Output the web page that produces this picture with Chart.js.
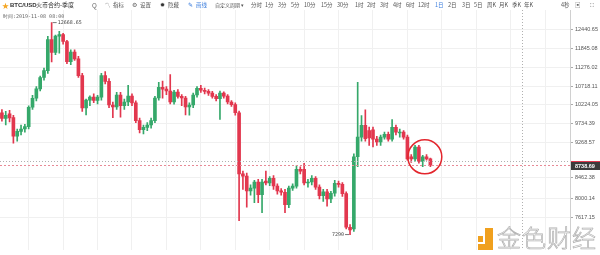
<!DOCTYPE html>
<html><head><meta charset="utf-8">
<script src="https://cdn.jsdelivr.net/npm/chart.js@4.4.0/dist/chart.umd.min.js"></script>
<style>
html,body{margin:0;padding:0;background:#fff;width:600px;height:255px;overflow:hidden;font-family:"Noto Sans CJK SC","Noto Sans",sans-serif;}
#wrap{position:relative;width:600px;height:255px;}
#c{position:absolute;left:0;top:0;}
.t{position:absolute;top:0px;line-height:10px;font-size:5.5px;color:#555;white-space:nowrap;}
#wm{position:absolute;left:0;top:0;width:600px;height:255px;pointer-events:none;}
</style></head>
<body><div id="wrap">
<canvas id="c" width="600" height="255"></canvas>
<div id="bar">
 <span class="t" style="left:2px;color:#f5a623;font-size:7px;">★</span>
 <span class="t" style="left:10px;color:#333;font-weight:bold;font-size:6px;font-family:'Liberation Sans',sans-serif;">BTC/USD</span>
 <span class="t" style="left:36px;color:#333;font-size:6px;">火币合约-季度</span>
 <span class="t" style="left:92px;color:#666;font-size:6.5px;">Q</span>
 <span class="t" style="left:105px;color:#666;">〽</span>
 <span class="t" style="left:113px;">指标</span>
 <span class="t" style="left:132px;color:#666;">⚙</span>
 <span class="t" style="left:140px;">设置</span>
 <span class="t" style="left:160px;color:#333;">✹</span>
 <span class="t" style="left:168px;">隐藏</span>
 <span class="t" style="left:188px;color:#3b7ddd;">✎</span>
 <span class="t" style="left:196px;color:#3b7ddd;">画线</span>
 <span class="t" style="left:215px;font-size:5px;">自定义周期 ▾</span>
 <span class="t" style="left:251px;">分时</span>
 <span class="t" style="left:265px;">1分</span>
 <span class="t" style="left:278px;">3分</span>
 <span class="t" style="left:291px;">5分</span>
 <span class="t" style="left:304px;">10分</span>
 <span class="t" style="left:321px;">15分</span>
 <span class="t" style="left:337px;">30分</span>
 <span class="t" style="left:355px;">1时</span>
 <span class="t" style="left:367px;">2时</span>
 <span class="t" style="left:380px;">3时</span>
 <span class="t" style="left:393px;">4时</span>
 <span class="t" style="left:406px;">6时</span>
 <span class="t" style="left:418px;">12时</span>
 <span class="t" style="left:435px;color:#3b7ddd;">1日</span>
 <span class="t" style="left:448px;">2日</span>
 <span class="t" style="left:462px;">3日</span>
 <span class="t" style="left:474px;">5日</span>
 <span class="t" style="left:487px;">周K</span>
 <span class="t" style="left:499px;">月K</span>
 <span class="t" style="left:512px;">季K</span>
 <span class="t" style="left:524px;">年K</span>
 <span class="t" style="left:561px;">4秒</span>
 <span class="t" style="left:575px;color:#666;">▣</span>
 <span class="t" style="left:590px;color:#666;">⛶</span>
 <span class="t" style="left:3px;top:12px;line-height:8px;font-size:5px;color:#666;font-family:'DejaVu Sans Mono',monospace;">时间:2019-11-08 08:00</span>
</div>
<div id="wm">
 <div style="position:absolute;left:478px;top:236px;width:5px;height:6px;background:#f0a01e;"></div>
 <div style="position:absolute;left:485px;top:228px;width:8px;height:22px;background:#f0a01e;"></div>
 <div style="position:absolute;left:478px;top:244px;width:15px;height:6px;background:#f0a01e;"></div>
 <div style="position:absolute;left:497px;top:222px;font-size:24px;line-height:30px;color:rgba(255,255,255,0.85);-webkit-text-stroke:0.7px #b0b0b0;font-family:'Noto Sans CJK SC',sans-serif;font-weight:300;letter-spacing:1px;">金色财经</div>
</div>
</div>
<script>
const dates = [
"2019-07-25","2019-07-26","2019-07-27","2019-07-28","2019-07-29","2019-07-30","2019-07-31",
"2019-08-01","2019-08-02","2019-08-03","2019-08-04","2019-08-05","2019-08-06","2019-08-07","2019-08-08","2019-08-09","2019-08-10",
"2019-08-11","2019-08-12","2019-08-13","2019-08-14","2019-08-15","2019-08-16","2019-08-17","2019-08-18","2019-08-19","2019-08-20",
"2019-08-21","2019-08-22","2019-08-23","2019-08-24","2019-08-25","2019-08-26","2019-08-27","2019-08-28","2019-08-29","2019-08-30","2019-08-31",
"2019-09-01","2019-09-02","2019-09-03","2019-09-04","2019-09-05","2019-09-06","2019-09-07","2019-09-08","2019-09-09","2019-09-10",
"2019-09-11","2019-09-12","2019-09-13","2019-09-14","2019-09-15","2019-09-16","2019-09-17","2019-09-18","2019-09-19","2019-09-20",
"2019-09-21","2019-09-22","2019-09-23","2019-09-24","2019-09-25","2019-09-26","2019-09-27","2019-09-28","2019-09-29","2019-09-30",
"2019-10-01","2019-10-02","2019-10-03","2019-10-04","2019-10-05","2019-10-06","2019-10-07","2019-10-08","2019-10-09","2019-10-10",
"2019-10-11","2019-10-12","2019-10-13","2019-10-14","2019-10-15","2019-10-16","2019-10-17","2019-10-18","2019-10-19","2019-10-20",
"2019-10-21","2019-10-22","2019-10-23","2019-10-24","2019-10-25","2019-10-26","2019-10-27","2019-10-28","2019-10-29","2019-10-30","2019-10-31",
"2019-11-01","2019-11-02","2019-11-03","2019-11-04","2019-11-05","2019-11-06","2019-11-07","2019-11-08","2019-11-09","2019-11-10",
"2019-11-11","2019-11-12","2019-11-13","2019-11-14"];
const openV = [10016,9870,9990,9890,9420,9540,9600,9660,10160,10400,10660,10980,11180,12120,11720,12230,12280,12060,11440,11730,
11525,11035,10145,10350,10430,10340,10430,11035,10870,10220,10170,10490,10200,10300,10460,10275,9810,9580,9640,9700,
9810,10407,10700,10650,10600,10300,10570,10450,10407,10170,10220,10490,10675,10620,10590,10540,10450,10390,10540,10460,
10300,10230,10016,8540,8490,8170,8230,8360,8090,8380,8340,8440,8275,8170,8140,7880,8230,8270,8640,8640,
8340,8360,8440,8250,8066,8150,8000,8120,8330,8310,8110,7430,7400,8930,9400,9690,9560,9580,9350,9280,
9400,9470,9350,9640,9500,9520,9400,8930,8880,9160,8820,8930,8880];
const highV = [10100,10050,10080,9950,9600,9700,9720,10200,10480,10720,11020,11250,12220,12668.65,12260,12380,12320,12100,11800,11800,
11600,11100,10380,10470,10520,10480,11100,11150,10950,10300,10560,10560,10380,10760,10520,10330,9880,9700,9760,9880,
10450,10840,10880,10720,11060,10620,10640,10500,10450,10280,10540,10720,10760,10680,10640,10590,10500,10600,10580,10500,
10340,10280,10060,8600,8560,8300,8400,8420,8420,8600,8480,8500,8320,8220,8200,8270,8320,8720,8700,8780,
8420,8500,8480,8300,8200,8200,8160,8400,8380,8350,8150,7480,9000,10840,9940,10090,9650,9650,9420,9450,
9520,9520,9840,9700,9600,9560,9450,8980,9200,9200,8960,8980,8900];
const lowV = [9800,9700,9780,9250,9300,9450,9520,9600,10100,10330,10600,10900,11100,11437,11650,11700,11980,11380,11350,11480,
10980,10050,9960,10200,10280,10250,10350,10800,10150,9890,10100,9900,10100,10200,10200,9760,9500,9480,9560,9620,
9760,10350,10400,10500,10250,10240,10400,10200,9960,9950,10150,10430,10560,10520,10480,10400,10330,9840,10400,10250,
10180,9950,7560,8200,7830,8080,7920,7920,7720,8300,8280,8200,8100,8080,7720,7820,8180,8230,8540,8300,
8250,8300,8200,8000,7950,7850,7920,8060,8250,8050,7400,7290,7350,8700,9300,9300,9200,9160,9200,9200,
9350,9300,9300,9450,9400,9350,8850,8800,8830,8780,8700,8850,8700];
const closeV = [9870,9950,9880,9420,9540,9600,9660,10160,10400,10660,10980,11180,12120,11720,12230,12280,12060,11440,11730,11525,
11035,10145,10350,10430,10340,10430,11035,10870,10220,10170,10490,10200,10300,10460,10275,9810,9580,9640,9700,9810,
10407,10700,10650,10600,10300,10570,10450,10407,10170,10220,10490,10675,10620,10590,10540,10450,10390,10540,10460,10300,
10230,10016,8540,8490,8170,8230,8360,8090,8360,8340,8440,8275,8170,8140,7880,8230,8270,8640,8600,8340,
8360,8440,8250,8066,8150,8000,8120,8330,8310,8110,7430,7380,8930,9400,9690,9360,9380,9350,9280,9400,
9470,9350,9640,9520,9520,9400,8880,8880,9160,8820,8930,8880,8738.69];
const yTicks = [12440.65,11845.08,11276.02,10718.11,10224.05,9734.39,9268.57,8462.38,8000.14,7617.15];
const futureSlots = 36;
const crossIndex = 136;
const crossValue = 8830;

const GREEN = '#35a86a', RED = '#e2374e';
const labels = dates.concat(Array(futureSlots).fill(''));
const cols = dates.map((d,i)=> closeV[i] >= openV[i] ? GREEN : RED);

const overlay = {
  id:'overlay',
  afterDatasetsDraw(chart){
    const {ctx, chartArea:a, scales:{x,y}} = chart;
    ctx.save();
    ctx.strokeStyle = '#b0b0b0'; ctx.lineWidth = 1; ctx.setLineDash([1,2]);
    const cx = Math.round(x.getPixelForValue(crossIndex))+0.5;
    ctx.beginPath(); ctx.moveTo(cx,a.top); ctx.lineTo(cx,a.bottom); ctx.stroke();
    const cy = Math.round(y.getPixelForValue(crossValue))+0.5;
    ctx.beginPath(); ctx.moveTo(a.left,cy); ctx.lineTo(a.right,cy); ctx.stroke();
    const last = closeV[closeV.length-1];
    const ly = Math.round(y.getPixelForValue(last))+0.5;
    ctx.strokeStyle = '#e88a96'; ctx.setLineDash([2,2]);
    ctx.beginPath(); ctx.moveTo(a.left,ly); ctx.lineTo(a.right,ly); ctx.stroke();
    ctx.setLineDash([]);
    ctx.fillStyle = '#3b3b3b';
    ctx.fillRect(a.right+1, ly-4.5, 600-a.right-1, 9);
    ctx.fillStyle = '#e2374e'; ctx.fillRect(a.right+1, ly-4.5, 600-a.right-1, 1);
    ctx.fillStyle = '#fff'; ctx.font = 'bold 5.5px "Liberation Sans", sans-serif';
    ctx.textBaseline = 'middle'; ctx.textAlign = 'left';
    ctx.fillText(last.toFixed(2), a.right+5, ly+0.5);
    let hi=0, lo=0;
    highV.forEach((v,i)=>{ if(v>highV[hi]) hi=i; });
    lowV.forEach((v,i)=>{ if(v<lowV[lo]) lo=i; });
    ctx.strokeStyle = '#555'; ctx.fillStyle = '#444'; ctx.lineWidth = 0.8;
    ctx.font = '5px "DejaVu Sans Mono", monospace';
    let hx = x.getPixelForValue(hi), hy = y.getPixelForValue(highV[hi]);
    ctx.beginPath(); ctx.moveTo(hx+1,hy); ctx.lineTo(hx+5,hy); ctx.stroke();
    ctx.textAlign='left'; ctx.fillText(highV[hi].toFixed(2), hx+6, hy);
    let lx = x.getPixelForValue(lo), lyy = y.getPixelForValue(lowV[lo]);
    ctx.beginPath(); ctx.moveTo(lx-1,lyy); ctx.lineTo(lx-5,lyy); ctx.stroke();
    ctx.textAlign='right'; ctx.fillText(String(lowV[lo]), lx-6, lyy);
    const rx = (x.getPixelForValue(107)+x.getPixelForValue(112))/2 + 4;
    const ry = (y.getPixelForValue(9160)+y.getPixelForValue(8700))/2;
    ctx.strokeStyle = '#e3262d'; ctx.lineWidth = 1.5;
    ctx.beginPath(); ctx.arc(rx, ry, 17, 0, Math.PI*2); ctx.stroke();
    ctx.restore();
  }
};

new Chart(document.getElementById('c'), {
  type:'bar',
  data:{ labels, datasets:[
    {label:'wick', data: dates.map((d,i)=>[lowV[i],highV[i]]), backgroundColor: cols, barThickness:1, grouped:false, order:2},
    {label:'body', data: dates.map((d,i)=>[openV[i],closeV[i]]), backgroundColor: cols, barThickness:3, minBarLength:1, grouped:false, order:1}
  ]},
  options:{
    responsive:false, animation:false, maintainAspectRatio:false,
    layout:{padding:{top:10,left:0,right:0,bottom:0}},
    plugins:{legend:{display:false}, tooltip:{enabled:false}},
    scales:{
      x:{type:'category', offset:true,
         grid:{offset:false, drawTicks:false, color:(c)=> (c.index%9===7)?'#f0f0f0':'rgba(0,0,0,0)'},
         ticks:{display:false, autoSkip:false},
         border:{display:false},
         afterFit:(s)=>{ s.height = 0; }},
      y:{type:'logarithmic', position:'right', min:7008, max:13092,
         afterBuildTicks:(s)=>{ s.ticks = yTicks.map(v=>({value:v})); },
         afterFit:(s)=>{ s.width = 30; },
         ticks:{callback:(v)=> Number(v).toFixed(2), color:'#555', padding:2, font:{size:5.5, family:'Liberation Sans'}},
         grid:{color:'#f0f0f0', tickLength:3, tickColor:'#aaa'},
         border:{color:'#d0d0d0'}}
    }
  },
  plugins:[overlay]
});
</script>
</body></html>
